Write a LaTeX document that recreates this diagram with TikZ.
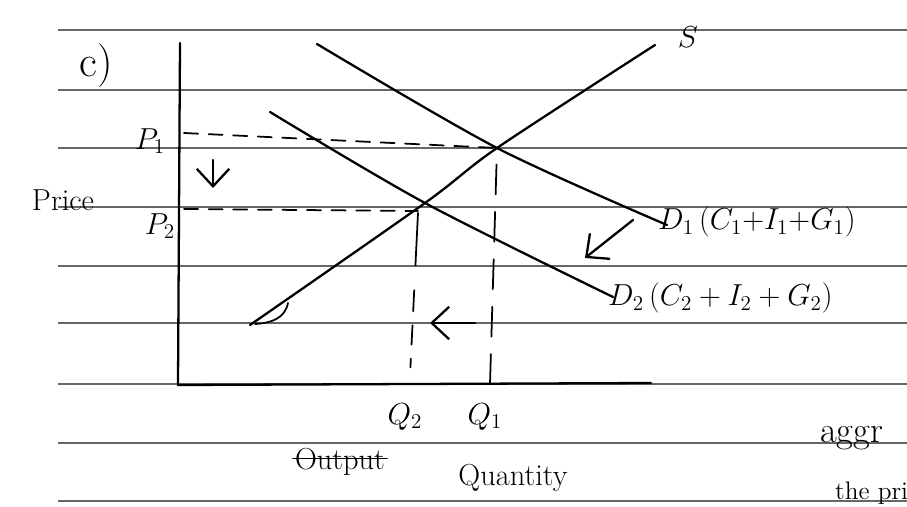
\documentclass[tikz,border=0pt]{standalone}
\usepackage{amsmath}
\usetikzlibrary{arrows.meta}
\begin{document}
\begin{tikzpicture}[
    x=0.02cm, y=-0.02cm,
    every node/.style={font=\LARGE, inner sep=1pt},
    pen/.style={line width=1.3pt, line cap=round, line join=round},
    rule/.style={line width=0.9pt, black!60},
    gd/.style={pen, line width=1pt, dash pattern=on 8pt off 6pt},
    gdl/.style={pen, line width=1pt, dash pattern=on 17pt off 10pt},
    e/.style={pen, -{Straight Barb[length=3.5mm, width=6.5mm]}},
  ]
  \useasboundingbox (0,0) rectangle (907,507);
  \foreach \yy in {30,90,148,207,266,323,384,443,501}
    \draw[rule] (58,\yy) -- (907,\yy);
  \coordinate (o) at (178,385);
  \coordinate (ytop) at (180,43);
  \coordinate (xend) at (651,383);
  \coordinate (s0) at (250,325);
  \coordinate (s1) at (655,45);
  \coordinate (d1a) at (317,44);
  \coordinate (d1b) at (667,225);
  \coordinate (d2a) at (270,112);
  \coordinate (d2b) at (613,297);
  \coordinate (e1) at (497,148);
  \coordinate (e2) at (425,203);
  \coordinate (p1a) at (184,133);
  \coordinate (p2a) at (184,209);
  \coordinate (p2b) at (418,211);
  \coordinate (q1a) at (490,384);
  \coordinate (q2a) at (418,213);
  \coordinate (q2b) at (410,376);
  \node (c) at (96,66) {\Huge c)};
  \node (price) at (63,200) {Price};
  \node (p1) at (150,141) {$P_1$};
  \node (p2) at (160,226) {$P_2$};
  \node (sl) at (688,37) {$S$};
  \node[anchor=west] (d1l) at (656,222) {$D_1\,(C_1{+}I_1{+}G_1)$};
  \node[anchor=west] (d2l) at (606,298) {$D_2\,(C_2+I_2+G_2)$};
  \node (q2) at (405,417) {$Q_2$};
  \node (q1) at (485,417) {$Q_1$};
  \node (outp) at (340,462) {Output};
  \node (qty) at (513,478) {Quantity};
  \node[anchor=base west] (aggr) at (818,442) {\huge aggr};
  \node[anchor=base west] (pri) at (833,499) {\Large the pri};
  \draw[pen] (ytop) -- (o) -- (xend);
  \draw[pen] plot[smooth, tension=0.5] coordinates {(s0) (e2) (e1) (s1)};
  \draw[pen] plot[smooth, tension=0.5] coordinates {(d1a) (e1) (d1b)};
  \draw[pen] plot[smooth, tension=0.5] coordinates {(d2a) (e2) (d2b)};
  \draw[pen, line width=1pt] (255,324) .. controls (272,323) and (285,318) .. (288,303);
  \draw[gd] (p1a) -- (e1);
  \draw[gd] (p2a) -- (p2b);
  \draw[gdl] (q1a) -- (e1);
  \draw[pen, line width=1pt, dash pattern=on 30pt off 14pt on 12pt off 8pt on 11pt off 8pt on 5pt] (q2a) -- (q2b);
  \draw[pen, line width=1pt] ([yshift=2pt]outp.west) -- ([yshift=2pt]outp.east);
  \draw[e] (213,160) -- (213,188);
  \draw[e] (633,220) -- (585,258);
  \draw[e] (475,323) -- (430,323);
\end{tikzpicture}
\end{document}
